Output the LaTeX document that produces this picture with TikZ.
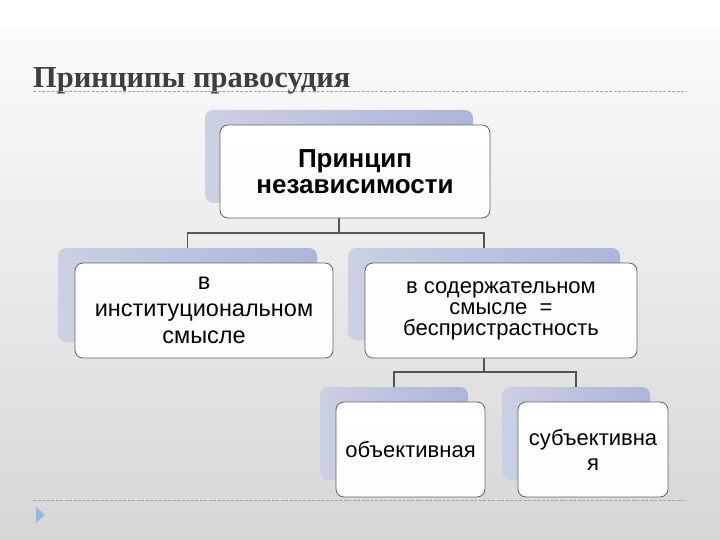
\documentclass[tikz,border=0pt]{standalone}
\usepackage{fontspec}
\setmainfont{Liberation Serif}
\newfontfamily\arialfont{Liberation Sans}
\usetikzlibrary{positioning}
\definecolor{slidetop}{RGB}{251,251,251}
\definecolor{slidebot}{RGB}{214,214,214}
\definecolor{backleft}{RGB}{204,208,226}
\definecolor{backright}{RGB}{172,180,218}
\definecolor{boxline}{RGB}{100,100,100}
\definecolor{linkgray}{RGB}{84,84,84}
\definecolor{titlegray}{RGB}{62,62,62}
\definecolor{rulegray}{RGB}{168,168,168}
\definecolor{markblue}{RGB}{150,184,218}

\tikzset{
  backbox/.style={rounded corners=8pt, left color=backleft, right color=backright, inner sep=0pt, outer sep=0pt},
  frontbox/.style={rounded corners=8pt, draw=boxline, line width=0.8pt, top color=white, bottom color=white!95!backleft, inner sep=2pt, outer sep=0pt, align=center, text=black},
  link/.style={draw=linkgray, line width=1.6pt},
  dashrule/.style={draw=rulegray, line width=0.8pt, dash pattern=on 3pt off 1.5pt}
}

\begin{document}
\begin{tikzpicture}[x=1pt, y=-1pt]
  % Slide background
  \fill[white] (0,0) rectangle (720,540);
  \fill[top color=slidetop, bottom color=slidebot] (0,30) rectangle (720,540);
  \useasboundingbox (0,0) rectangle (720,540);

  % Title and rules
  \node[anchor=base west, inner sep=0pt, font=\fontsize{30.5}{33}\selectfont\bfseries, text=titlegray] (title) at (33,88) {Принципы правосудия};
  \draw[dashrule] (33,91) -- (687,91);
  \draw[dashrule] (33,500) -- (687,500);
  \fill[markblue] (36,507) -- (45,515) -- (36,523) -- cycle;

  % Shadow boxes
  \node[backbox, minimum width=268pt, minimum height=93pt] (indepback) at (339,156.5) {};
  \node[backbox, minimum width=259pt, minimum height=94pt] (instback) at (187.5,295) {};
  \node[backbox, minimum width=272pt, minimum height=92pt] (contback) at (484,294) {};
  \node[backbox, minimum width=148pt, minimum height=93pt] (objback) at (394,433.5) {};
  \node[backbox, minimum width=148pt, minimum height=93pt] (subjback) at (576,433.5) {};

  % Connectors
  \draw[link] (indepback.south) -- ++(0,30) coordinate (forktop);
  \draw[link] (forktop) -| (instback.north);
  \draw[link] (forktop) -| (contback.north);
  \draw[link] (contback.south) -- ++(0,32) coordinate (forkbot);
  \draw[link] (forkbot) -| (objback.north);
  \draw[link] (forkbot) -| (subjback.north);

  % Front boxes
  \node[frontbox, minimum width=270pt, minimum height=93pt, font=\arialfont\fontsize{26}{26}\selectfont\bfseries] (indep) at (355,171.5) {Принцип\\независимости};
  \node[frontbox, minimum width=258pt, minimum height=95pt, font=\arialfont\fontsize{23.5}{27}\selectfont] (inst) at (204,310.5) {в\\институциональном\\смысле};
  \node[frontbox, minimum width=272pt, minimum height=95pt, font=\arialfont\fontsize{22}{21}\selectfont] (cont) at (501,310.5) {в содержательном\\смысле \ =\\беспристрастность};
  \node[frontbox, minimum width=149pt, minimum height=95pt, font=\arialfont\fontsize{22}{25}\selectfont] (obj) at (410.5,449.5) {объективная};
  \node[frontbox, minimum width=150pt, minimum height=95pt, font=\arialfont\fontsize{22}{25}\selectfont] (subj) at (593,449.5) {субъективна\\я};
\end{tikzpicture}
\end{document}
